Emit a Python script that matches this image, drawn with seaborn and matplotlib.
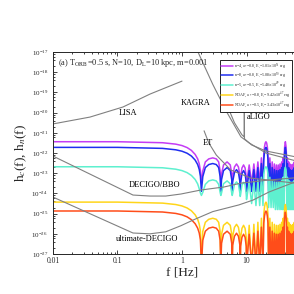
import numpy as np
import pandas as pd
import matplotlib
matplotlib.use('Agg')
import matplotlib.pyplot as plt
import seaborn as sns
from matplotlib.ticker import LogLocator, NullFormatter, FixedLocator, FixedFormatter

# frequency grid shared by the five source curves [Hz]
freq = [0.01, 0.1, 0.5, 0.8, 1.0, 1.2, 1.4, 1.6, 1.75, 1.85, 1.93, 2.0,
        2.1, 2.3, 2.6, 3.0, 3.4, 3.7, 3.9, 4.0,
        4.1, 4.4, 5.0, 5.6, 5.9, 6.0,
        6.1, 6.5, 7.0, 7.5, 7.9, 8.0,
        8.1, 8.5, 9.0, 9.5, 9.9, 10.0,
        11, 12, 13, 14, 15, 16, 17, 18,
        18.5, 19, 19.5, 20, 20.5, 21, 21.5, 22,
        23, 24, 25, 26, 27, 28, 29, 30, 31, 32, 33, 34, 35, 36, 37, 38,
        38.5, 39, 40, 41, 41.5, 42,
        43, 44, 45, 46, 47, 48, 49, 50, 51, 52, 53, 54, 55, 56, 57, 58]

# log10 h_c
log_h_n4 = [-21.44, -21.44, -21.49, -21.56, -21.63, -21.73, -21.87, -22.07, -22.29, -22.53, -22.87, -23.5,
            -22.89, -22.44, -22.29, -22.24, -22.29, -22.44, -22.89, -23.5,
            -23.04, -22.59, -22.44, -22.59, -23.04, -23.5,
            -23.14, -22.69, -22.54, -22.69, -23.14, -23.5,
            -23.19, -22.74, -22.59, -22.74, -23.19, -23.5,
            -22.59, -23.5, -22.54, -23.5, -22.44, -23.5, -22.24, -23.5,
            -22.04, -21.69, -21.5, -21.44, -21.5, -21.69, -22.04, -23.5,
            -22.24, -23.5, -22.44, -23.5, -22.54, -23.5, -22.59, -23.5, -22.59, -23.5, -22.54, -23.5, -22.44, -23.5, -22.24, -23.5,
            -22.04, -21.69, -21.44, -21.69, -22.04, -23.5,
            -22.24, -23.5, -22.44, -23.5, -22.54, -23.5, -22.59, -23.5, -22.59, -23.5, -22.54, -23.5, -22.44, -23.5, -22.24, -23.5]

log_h_n8 = [-21.72, -21.72, -21.77, -21.84, -21.91, -22.01, -22.15, -22.35, -22.57, -22.81, -23.15, -23.9,
            -23.17, -22.72, -22.57, -22.52, -22.57, -22.72, -23.17, -23.9,
            -23.32, -22.87, -22.72, -22.87, -23.32, -23.9,
            -23.42, -22.97, -22.82, -22.97, -23.42, -23.9,
            -23.47, -23.02, -22.87, -23.02, -23.47, -23.9,
            -22.87, -23.9, -22.82, -23.9, -22.72, -23.9, -22.52, -23.9,
            -22.32, -21.97, -21.78, -21.72, -21.78, -21.97, -22.32, -23.9,
            -22.52, -23.9, -22.72, -23.9, -22.82, -23.9, -22.87, -23.9, -22.87, -23.9, -22.82, -23.9, -22.72, -23.9, -22.52, -23.9,
            -22.32, -21.97, -21.72, -21.97, -22.32, -23.9,
            -22.52, -23.9, -22.72, -23.9, -22.82, -23.9, -22.87, -23.9, -22.87, -23.9, -22.82, -23.9, -22.72, -23.9, -22.52, -23.9]

log_h_n5 = [-22.68, -22.68, -22.73, -22.80, -22.87, -22.97, -23.11, -23.31, -23.53, -23.77, -23.98, -24.1,
            -23.95, -23.55, -23.38, -23.33, -23.38, -23.55, -23.95, -24.1,
            -23.98, -23.52, -23.38, -23.52, -23.98, -24.1,
            -24.0, -23.56, -23.43, -23.56, -24.0, -24.15,
            -24.05, -23.58, -23.45, -23.58, -24.05, -24.3,
            -23.45, -24.5, -23.43, -24.6, -23.35, -24.6, -23.2, -24.6,
            -23.05, -22.82, -22.72, -22.68, -22.72, -22.82, -23.05, -24.7,
            -23.2, -24.7, -23.35, -24.7, -23.43, -24.8, -23.45, -24.8, -23.45, -24.8, -23.43, -24.8, -23.35, -24.8, -23.2, -24.8,
            -23.05, -22.82, -22.7, -22.82, -23.05, -24.8,
            -23.2, -24.8, -23.35, -24.8, -23.43, -24.8, -23.45, -24.8, -23.45, -24.8, -23.43, -24.8, -23.35, -24.8, -23.2, -24.8]

log_h_ndaf8 = [-24.43, -24.43, -24.48, -24.55, -24.62, -24.72, -24.86, -25.06, -25.28, -25.52, -25.86, -27.6,
               -25.88, -25.43, -25.28, -25.23, -25.28, -25.43, -25.88, -27.6,
               -26.03, -25.58, -25.43, -25.58, -26.03, -27.6,
               -26.13, -25.68, -25.53, -25.68, -26.13, -27.6,
               -26.18, -25.73, -25.58, -25.73, -26.18, -27.6,
               -25.58, -27.6, -25.53, -27.6, -25.43, -27.6, -25.23, -27.6,
               -25.03, -24.68, -24.49, -24.43, -24.49, -24.68, -25.03, -27.6,
               -25.23, -27.6, -25.43, -27.6, -25.53, -27.6, -25.58, -27.6, -25.58, -27.6, -25.53, -27.6, -25.43, -27.6, -25.23, -27.6,
               -25.03, -24.73, -24.55, -24.73, -25.03, -27.6,
               -25.23, -27.6, -25.43, -27.6, -25.53, -27.6, -25.58, -27.6, -25.58, -27.6, -25.53, -27.6, -25.43, -27.6, -25.23, -27.6]

log_h_ndaf5 = [-24.87, -24.87, -24.92, -24.99, -25.06, -25.16, -25.30, -25.50, -25.72, -25.96, -26.30, -27.6,
               -26.32, -25.87, -25.72, -25.67, -25.72, -25.87, -26.32, -27.6,
               -26.47, -26.02, -25.87, -26.02, -26.47, -27.6,
               -26.57, -26.12, -25.97, -26.12, -26.57, -27.6,
               -26.62, -26.17, -26.02, -26.17, -26.62, -27.6,
               -26.02, -27.6, -25.97, -27.6, -25.87, -27.6, -25.67, -27.6,
               -25.47, -25.12, -24.93, -24.87, -24.93, -25.12, -25.47, -27.6,
               -25.67, -27.6, -25.87, -27.6, -25.97, -27.6, -26.02, -27.6, -26.02, -27.6, -25.97, -27.6, -25.87, -27.6, -25.67, -27.6,
               -25.47, -25.15, -24.93, -25.15, -25.47, -27.6,
               -25.67, -27.6, -25.87, -27.6, -25.97, -27.6, -26.02, -27.6, -26.02, -27.6, -25.97, -27.6, -25.87, -27.6, -25.67, -27.6]

source_labels = [r'n=4, a$_*$=0.8, E$_i$=1.01$\times$10$^{51}$ erg',
                 r'n=8, a$_*$=0.8, E$_i$=5.08$\times$10$^{50}$ erg',
                 r'n=5, a$_*$=0.5, E$_i$=5.48$\times$10$^{49}$ erg',
                 r'NDAF, a$_*$=0.8, E$_i$=9.42$\times$10$^{47}$ erg',
                 r'NDAF, a$_*$=0.5, E$_i$=3.43$\times$10$^{47}$ erg']
source_colors = ['#c43cf5', '#1f2ef0', '#5ef0cf', '#ffd51a', '#ff4d1a']

# detector sensitivity curves, log10 h_n
lisa_f = [0.01, 0.0375, 0.122, 0.32, 1.0]
lisa_h = [-20.56, -20.22, -19.72, -19.08, -18.44]
kagra_f = [1.77, 3.0, 5.0, 8.2, 11, 20, 60]
kagra_h = [-17.0, -18.6, -20.0, -21.2, -21.5, -22.0, -22.4]
aligo_f = [4.8, 6.5, 8.5, 9.2, 9.25, 9.3, 12, 20, 60]
aligo_h = [-19.5, -20.5, -21.1, -21.2, -19.0, -21.3, -21.6, -21.9, -22.2]
et_f = [2.2, 2.6, 3.4, 5.7, 11.7, 60]
et_h = [-20.9, -21.5, -22.1, -22.84, -23.24, -23.5]
decigo_f = [0.01, 0.174, 0.32, 0.56, 0.96, 1.97, 4.5, 8.2, 21.6, 60]
decigo_h = [-22.15, -24.08, -24.13, -24.13, -24.03, -23.83, -23.68, -23.49, -23.34, -23.22]
udecigo_f = [0.01, 0.174, 0.32, 0.56, 0.96, 1.53, 3.0, 7.6, 12.6, 22.3, 60]
udecigo_h = [-24.18, -25.96, -26.0, -25.9, -25.6, -25.3, -24.9, -24.57, -24.33, -23.93, -23.4]

sns.set_style('ticks')
plt.rcParams['font.family'] = ['Liberation Serif', 'DejaVu Serif']
plt.rcParams['mathtext.fontset'] = 'stix'

fig = plt.figure(figsize=(2.94, 2.94), dpi=100)
ax = fig.add_axes([0.180, 0.136, 0.878, 0.687])

src = [log_h_n4, log_h_n8, log_h_n5, log_h_ndaf8, log_h_ndaf5]
for vals, col, lab in zip(src, source_colors, source_labels):
    d = pd.DataFrame({'f': freq, 'h': 10 ** np.array(vals)})
    sns.lineplot(data=d, x='f', y='h', color=col, lw=1.1, estimator=None,
                 sort=False, ax=ax, label=lab)

for fx, hy in [(lisa_f, lisa_h), (kagra_f, kagra_h), (aligo_f, aligo_h),
               (et_f, et_h), (decigo_f, decigo_h), (udecigo_f, udecigo_h)]:
    d = pd.DataFrame({'f': fx, 'h': 10 ** np.array(hy)})
    sns.lineplot(data=d, x='f', y='h', color='#808080', lw=0.8,
                 estimator=None, sort=False, ax=ax)

ax.set_xscale('log')
ax.set_yscale('log')
ax.set_xlim(0.01, 100)
ax.set_ylim(1e-27, 1e-17)

ax.xaxis.set_major_locator(FixedLocator([0.01, 0.1, 1, 10]))
ax.xaxis.set_major_formatter(FixedFormatter(['0.01', '0.1', '1', '10']))
ax.xaxis.set_minor_locator(LogLocator(base=10, subs=np.arange(2, 10), numticks=20))
ax.xaxis.set_minor_formatter(NullFormatter())
ax.yaxis.set_major_locator(LogLocator(base=10, numticks=20))
ax.yaxis.set_minor_locator(LogLocator(base=10, subs=[2, 4, 6, 8], numticks=20))
ax.yaxis.set_minor_formatter(NullFormatter())
ax.tick_params(which='both', direction='in', top=True, right=True, width=0.6)
ax.tick_params(which='major', length=3, labelsize=5)
ax.tick_params(which='minor', length=1.5)
ax.tick_params(axis='x', labelsize=5.5, pad=2)
for s in ax.spines.values():
    s.set_linewidth(0.7)

ax.set_xlabel('f [Hz]', fontsize=9.5, labelpad=1)
ax.set_ylabel(r'h$_c$(f), h$_n$(f)', fontsize=9.5, labelpad=2)

ax.text(0.02, 0.945, r'(a) T$_{\rm ORB}$=0.5 s, N=10, D$_{\rm L}$=10 kpc, m=0.001',
        transform=ax.transAxes, fontsize=6, va='center', ha='left')

lab_kw = dict(fontsize=6, color='black', ha='center', va='center')
ax.text(0.145, 1e-20, 'LISA', **lab_kw)
ax.text(1.65, 3.0e-20, 'KAGRA', **lab_kw)
ax.text(15.6, 6.0e-21, 'aLIGO', **lab_kw)
ax.text(2.53, 3.2e-22, 'ET', **lab_kw)
ax.text(0.38, 2.6e-24, 'DECIGO/BBO', **lab_kw)
ax.text(0.285, 5.5e-27, 'ultimate-DECIGO', **lab_kw)

leg = ax.legend(loc='upper left', bbox_to_anchor=(0.64, 0.97), fontsize=2.9,
                frameon=True, fancybox=False, edgecolor='black', framealpha=1,
                handlelength=2.8, borderpad=0.3, labelspacing=0.1,
                handletextpad=0.4)
leg.get_frame().set_linewidth(0.6)

fig.savefig('out.png', dpi=100)
